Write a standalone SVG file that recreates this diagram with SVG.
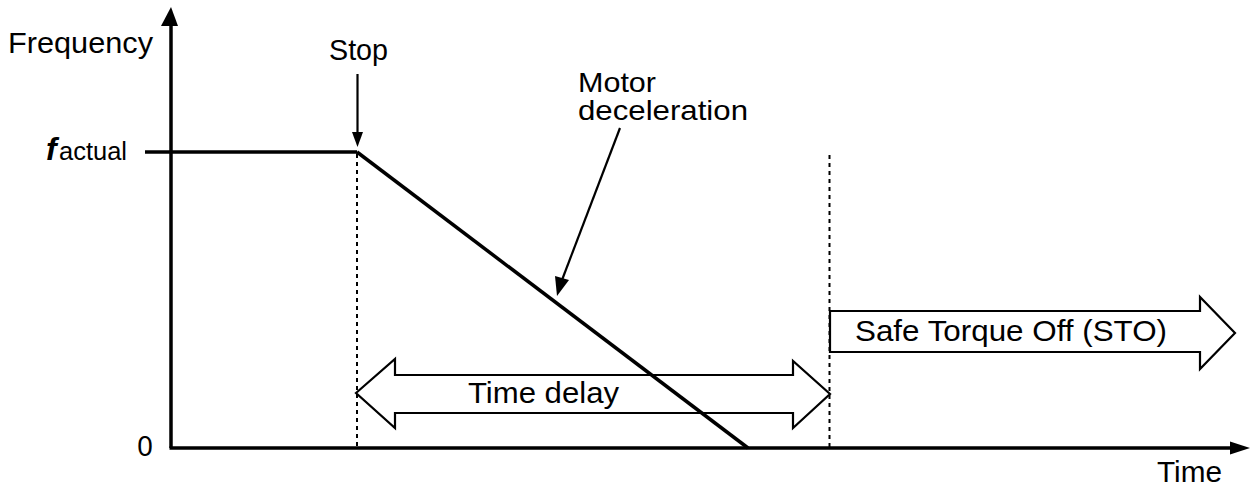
<svg xmlns="http://www.w3.org/2000/svg" width="1250" height="489" viewBox="0 0 1250 489">
<style>
text{font-family:"Liberation Sans",Arial,sans-serif;fill:#000;}
.lbl{font-size:30px;}
.axis{stroke:#000;stroke-width:3.5;fill:none;}
.thick{stroke:#000;stroke-width:3.5;fill:none;}
.dot{stroke:#000;stroke-width:2;stroke-dasharray:4 4;fill:none;}
.thin{stroke:#000;stroke-width:2.2;fill:none;}
.block{stroke:#000;stroke-width:2.2;fill:#fff;stroke-linejoin:miter;}
</style>
<rect width="1250" height="489" fill="#fff"/>
<g id="time-delay">
<path class="block" d="M356,393 L395,359 L395,375 L793,375 L793,361 L830,394 L793,428 L793,413 L395,413 L395,428 Z"/>
<text class="lbl" x="468" y="403" textLength="151" lengthAdjust="spacingAndGlyphs">Time delay</text>
</g>
<g id="connectors">
<line class="axis" x1="171" y1="448" x2="171" y2="24"/>
<path d="M161,26 L171,7 L178,26 Z" fill="#000"/>
<line class="axis" x1="169.5" y1="448" x2="1232" y2="448"/>
<path d="M1230,441.5 L1250,448 L1230,454.5 Z" fill="#000"/>
<line class="thick" x1="145" y1="152" x2="357" y2="152"/>
<line class="thick" x1="357" y1="152" x2="748" y2="448"/>
<line class="dot" x1="357" y1="154" x2="357" y2="447"/>
<line class="dot" x1="829.5" y1="155" x2="829.5" y2="447"/>
<line class="thin" x1="357.5" y1="74" x2="357.5" y2="134"/>
<path d="M352,132 L357.5,147 L363,132 Z" fill="#000"/>
<line class="thin" x1="620" y1="128" x2="562" y2="280"/>
<path d="M555,276 L557,296 L569,280 Z" fill="#000"/>
</g>
<g id="sto">
<path class="block" d="M830,311 L1200,311 L1200,297 L1235,333 L1200,369 L1200,352 L830,352 Z"/>
<text class="lbl" x="855" y="341" textLength="312" lengthAdjust="spacingAndGlyphs">Safe Torque Off (STO)</text>
</g>
<g id="labels">
<text class="lbl" x="8" y="53" textLength="145" lengthAdjust="spacingAndGlyphs">Frequency</text>
<text class="lbl" x="329" y="60" textLength="59" lengthAdjust="spacingAndGlyphs">Stop</text>
<text x="578" y="92" style="font-size:28px" textLength="78" lengthAdjust="spacingAndGlyphs">Motor</text>
<text x="578" y="120" style="font-size:28px" textLength="170" lengthAdjust="spacingAndGlyphs">deceleration</text>
<text x="46" y="160" style="font-size:32px;font-weight:bold;font-style:italic">f</text>
<text x="59" y="160" style="font-size:25px" textLength="68" lengthAdjust="spacingAndGlyphs">actual</text>
<text x="137" y="456" style="font-size:28px;font-family:'Noto Sans','Liberation Sans',sans-serif">0</text>
<text class="lbl" x="1157" y="482" textLength="65" lengthAdjust="spacingAndGlyphs">Time</text>
</g>
</svg>
